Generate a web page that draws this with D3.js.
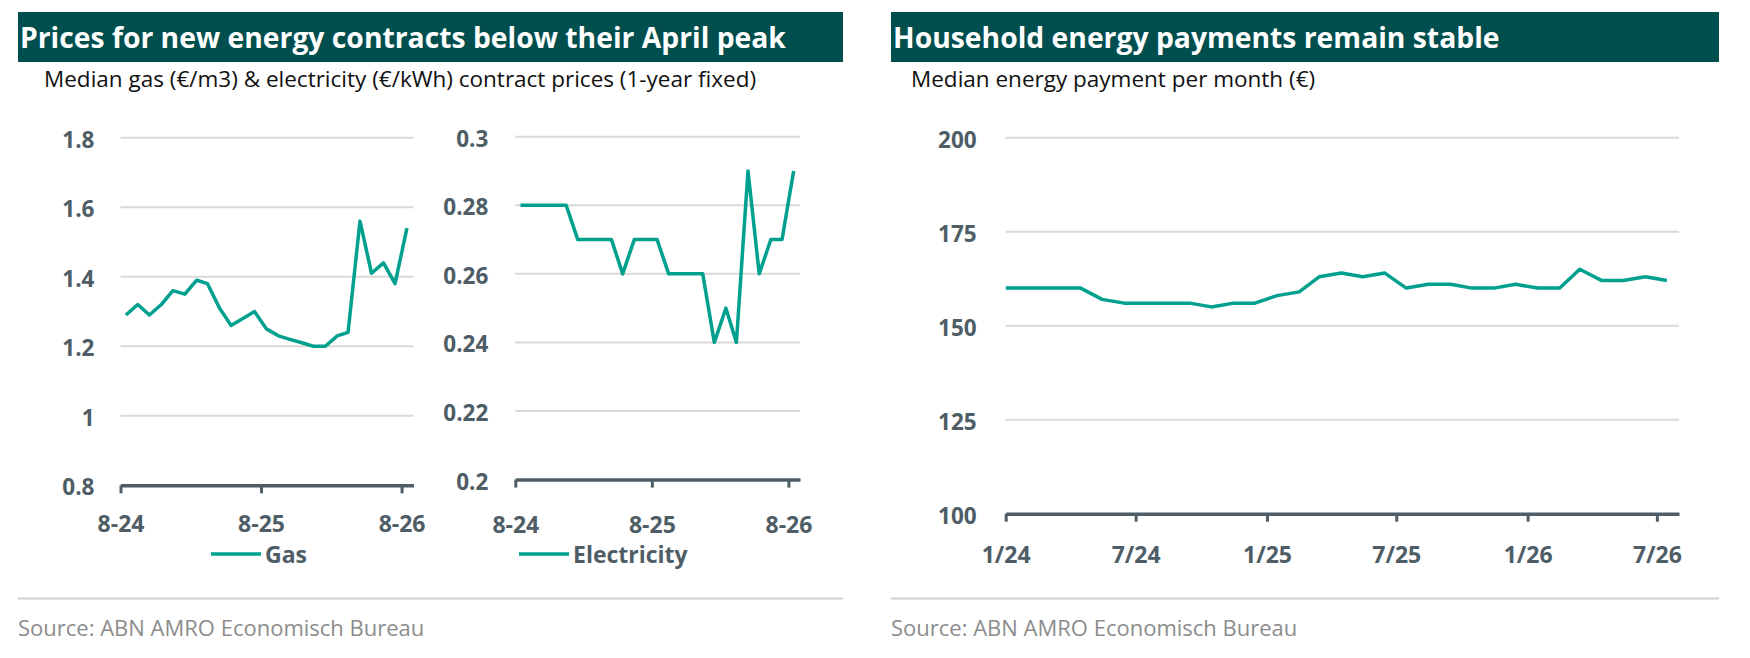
<!DOCTYPE html>
<html>
<head>
<meta charset="utf-8">
<script src="https://cdn.jsdelivr.net/npm/d3@7"></script>
<style>
  body { margin: 0; background: #fff; }
  text { font-family: "Open Sans", "Noto Sans", sans-serif; }
</style>
</head>
<body>
<div id="my_dataviz"></div>
<script>

// contract prices, one value per month (8-24 .. 8-26)
var contractMonths = ["2024-08","2024-09","2024-10","2024-11","2024-12","2025-01","2025-02","2025-03","2025-04",
  "2025-05","2025-06","2025-07","2025-08","2025-09","2025-10","2025-11","2025-12","2026-01","2026-02",
  "2026-03","2026-04","2026-05","2026-06","2026-07","2026-08"];
var gasPrices = [1.29,1.32,1.29,1.32,1.36,1.35,1.39,1.38,1.31,1.26,1.28,1.30,1.25,
  1.23,1.22,1.21,1.20,1.20,1.23,1.24,1.56,1.41,1.44,1.38,1.54];
var electricityPrices = [0.28,0.28,0.28,0.28,0.28,0.27,0.27,0.27,0.27,0.26,0.27,0.27,0.27,
  0.26,0.26,0.26,0.26,0.24,0.25,0.24,0.29,0.26,0.27,0.27,0.29];
var contractTickMonths = ["2024-08","2025-08","2026-08"];
var contractTickLabels = ["8-24","8-25","8-26"];
var gasTicks = [0.8,1,1.2,1.4,1.6,1.8];
var electricityTicks = [0.2,0.22,0.24,0.26,0.28,0.3];

// household payments (first month runs in from the left edge)
var paymentMonths = ["2023-12","2024-01","2024-02","2024-03","2024-04","2024-05","2024-06","2024-07","2024-08",
  "2024-09","2024-10","2024-11","2024-12","2025-01","2025-02","2025-03","2025-04","2025-05","2025-06",
  "2025-07","2025-08","2025-09","2025-10","2025-11","2025-12","2026-01","2026-02","2026-03","2026-04",
  "2026-05","2026-06","2026-07"];
var payments = [160,160,160,160,160,157,156,156,156,156,155,156,156,158,159,163,164,163,164,
  160,161,161,160,160,161,160,160,165,162,162,163,162];
var paymentTickMonths = ["2024-01","2024-07","2025-01","2025-07","2026-01","2026-07"];
var paymentTickLabels = ["1/24","7/24","1/25","7/25","1/26","7/26"];
var paymentTicks = [100,125,150,175,200];

var teal = "#00a08f", slate = "#4e5d66", grid = "#d9d9d9", darkTeal = "#004e4e";
var font = "'Open Sans', sans-serif";

var parseMonth = d3.timeParse("%Y-%m");
function midMonth(s) { var d = parseMonth(s); return new Date(d.getFullYear(), d.getMonth(), 15); }

var svg = d3.select("#my_dataviz")
  .append("svg")
    .attr("width", 1750)
    .attr("height", 658);

// headers
function header(x0, x1, title, subtitle, subX) {
  svg.append("rect")
    .attr("x", x0).attr("y", 12)
    .attr("width", x1 - x0).attr("height", 50)
    .attr("fill", darkTeal);
  svg.append("text")
    .attr("x", x0 + 2).attr("y", 48)
    .attr("font-size", 28.3).attr("font-weight", "bold")
    .attr("fill", "#fff")
    .text(title);
  svg.append("text")
    .attr("x", subX).attr("y", 87)
    .attr("font-size", 22.5)
    .attr("fill", "#111")
    .text(subtitle);
  svg.append("line")
    .attr("x1", x0).attr("x2", x1)
    .attr("y1", 598.5).attr("y2", 598.5)
    .attr("stroke", "#cfcfcf").attr("stroke-width", 2);
  svg.append("text")
    .attr("x", x0).attr("y", 636)
    .attr("font-size", 22)
    .attr("fill", "#8c8c8c")
    .text("Source: ABN AMRO Economisch Bureau");
}

header(18, 843, "Prices for new energy contracts below their April peak",
  "Median gas (\u20ac/m3) & electricity (\u20ac/kWh) contract prices (1-year fixed)", 44);
header(891, 1719, "Household energy payments remain stable",
  "Median energy payment per month (\u20ac)", 911);

// one panel: gridlines, y labels, x axis, line
function panel(opt) {
  var x = d3.scaleTime().domain(opt.xDomain).range(opt.xRange);
  var y = d3.scaleLinear().domain(opt.yDomain).range(opt.yRange);
  var g = svg.append("g");

  g.selectAll(".grid")
    .data(opt.yTicks.slice(1))
    .join("line")
      .attr("x1", opt.xRange[0]).attr("x2", opt.xRange[1])
      .attr("y1", function(d) { return y(d); })
      .attr("y2", function(d) { return y(d); })
      .attr("stroke", grid).attr("stroke-width", 2);

  var axisY = g.append("g")
    .attr("transform", "translate(" + opt.xRange[0] + ",0)")
    .call(d3.axisLeft(y).tickValues(opt.yTicks).tickSize(0).tickPadding(opt.yPad)
      .tickFormat(function(d) { return String(+d.toFixed(2)); }));
  axisY.select(".domain").remove();
  axisY.selectAll(".tick text")
    .attr("font-size", 22.5).attr("font-weight", "bold")
    .attr("font-family", font)
    .attr("fill", slate).attr("dy", "0.42em");

  var axisX = g.append("g")
    .attr("transform", "translate(0," + opt.yRange[0] + ")")
    .call(d3.axisBottom(x).tickValues(opt.xTicks.map(parseMonth))
      .tickFormat(function(d, i) { return opt.xLabels[i]; })
      .tickSize(8).tickSizeOuter(0));
  axisX.select(".domain").attr("stroke", slate).attr("stroke-width", 3.5);
  axisX.selectAll(".tick line").attr("stroke", slate).attr("stroke-width", 3);
  axisX.selectAll(".tick text")
    .attr("font-size", 23).attr("font-weight", "bold")
    .attr("font-family", font)
    .attr("fill", slate).attr("y", opt.xLabelY).attr("dy", 0);

  var clipId = "clip" + Math.round(opt.xRange[0]);
  svg.append("clipPath").attr("id", clipId)
    .append("rect")
      .attr("x", opt.xRange[0]).attr("y", 0)
      .attr("width", opt.xRange[1] - opt.xRange[0]).attr("height", 658);

  g.append("path")
    .datum(opt.values.map(function(v, i) { return {t: midMonth(opt.months[i]), v: v}; }))
    .attr("clip-path", "url(#" + clipId + ")")
    .attr("fill", "none")
    .attr("stroke", teal)
    .attr("stroke-width", 3.5)
    .attr("stroke-linejoin", "round")
    .attr("d", d3.line()
      .x(function(d) { return x(d.t); })
      .y(function(d) { return y(d.v); }));

  if (opt.legend) {
    svg.append("line")
      .attr("x1", opt.legendX).attr("x2", opt.legendX + 50)
      .attr("y1", 554).attr("y2", 554)
      .attr("stroke", teal).attr("stroke-width", 3.5);
    svg.append("text")
      .attr("x", opt.legendX + 54).attr("y", 563)
      .attr("font-size", 23).attr("font-weight", "bold")
      .attr("fill", slate)
      .text(opt.legend);
  }
}

panel({
  months: contractMonths, values: gasPrices,
  xDomain: [parseMonth("2024-08"), parseMonth("2026-09")], xRange: [120.5, 413.5],
  yDomain: [0.8, 1.8], yRange: [485.3, 137.7], yTicks: gasTicks, yPad: 26,
  xTicks: contractTickMonths, xLabels: contractTickLabels, xLabelY: 47,
  legend: "Gas", legendX: 211
});

panel({
  months: contractMonths, values: electricityPrices,
  xDomain: [parseMonth("2024-08"), parseMonth("2026-09")], xRange: [515.3, 800],
  yDomain: [0.2, 0.3], yRange: [479.6, 136.7], yTicks: electricityTicks, yPad: 27,
  xTicks: contractTickMonths, xLabels: contractTickLabels, xLabelY: 53,
  legend: "Electricity", legendX: 519
});

panel({
  months: paymentMonths, values: payments,
  xDomain: [parseMonth("2024-01"), parseMonth("2026-08")], xRange: [1005.7, 1679],
  yDomain: [100, 200], yRange: [513.7, 137.7], yTicks: paymentTicks, yPad: 29,
  xTicks: paymentTickMonths, xLabels: paymentTickLabels, xLabelY: 49
});

</script>
</body>
</html>
